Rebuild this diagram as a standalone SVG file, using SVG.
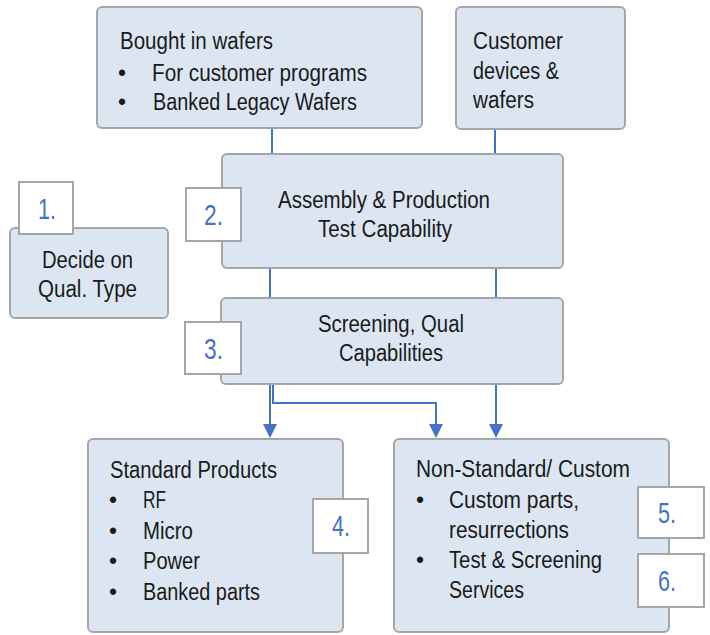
<svg xmlns="http://www.w3.org/2000/svg" width="710" height="635" viewBox="0 0 710 635">
<defs>
<style>
.box{fill:#dce6f2;stroke:#a6a6a6;stroke-width:2}
.lbl{fill:#ffffff;stroke:#a6a6a6;stroke-width:2}
.t{font-family:"Liberation Sans",Arial,sans-serif;font-size:23px;fill:#1a1a1a}
.n{font-family:"Liberation Sans",Arial,sans-serif;font-size:30px;fill:#4472c4}
.con{fill:none;stroke:#4472c4;stroke-width:2}
</style>
<marker id="ah" viewBox="0 0 10 10" refX="0" refY="5" markerUnits="userSpaceOnUse" markerWidth="14" markerHeight="14" orient="auto">
<path d="M0,0 L10,5 L0,10 z" fill="#4472c4"/>
</marker>
</defs>
<rect width="710" height="635" fill="#ffffff"/>
<g id="connectors">
<path class="con" d="M272 128 V154"/>
<path class="con" d="M495 129 V154"/>
<path class="con" d="M270 268 V298"/>
<path class="con" d="M496 268 V298"/>
<path class="con" d="M270 384 V424" marker-end="url(#ah)"/>
<path class="con" d="M273 384 V403 H436 V424" marker-end="url(#ah)"/>
<path class="con" d="M496 384 V424" marker-end="url(#ah)"/>
</g>
<g id="bought">
<rect class="box" x="97" y="7" width="325" height="121" rx="5"/>
<text class="t" x="120" y="49" textLength="153" lengthAdjust="spacingAndGlyphs">Bought in wafers</text>
<text class="t" x="118" y="81">•</text>
<text class="t" x="152" y="81" textLength="215" lengthAdjust="spacingAndGlyphs">For customer programs</text>
<text class="t" x="118" y="110">•</text>
<text class="t" x="153" y="110" textLength="204" lengthAdjust="spacingAndGlyphs">Banked Legacy Wafers</text>
</g>
<g id="customer">
<rect class="box" x="456" y="7" width="169" height="122" rx="5"/>
<text class="t" x="473" y="49" textLength="90" lengthAdjust="spacingAndGlyphs">Customer</text>
<text class="t" x="473" y="79" textLength="86" lengthAdjust="spacingAndGlyphs">devices &amp;</text>
<text class="t" x="473" y="108" textLength="61" lengthAdjust="spacingAndGlyphs">wafers</text>
</g>
<g id="assembly">
<rect class="box" x="222" y="154" width="341" height="114" rx="5"/>
<text class="t" x="278" y="208" textLength="212" lengthAdjust="spacingAndGlyphs">Assembly &amp; Production</text>
<text class="t" x="318" y="237" textLength="134" lengthAdjust="spacingAndGlyphs">Test Capability</text>
</g>
<g id="screening">
<rect class="box" x="221" y="298" width="342" height="86" rx="5"/>
<text class="t" x="318" y="332" textLength="146" lengthAdjust="spacingAndGlyphs">Screening, Qual</text>
<text class="t" x="339" y="361" textLength="104" lengthAdjust="spacingAndGlyphs">Capabilities</text>
</g>
<g id="decide">
<rect class="box" x="10" y="228" width="158" height="90" rx="5"/>
<text class="t" x="42" y="268" textLength="91" lengthAdjust="spacingAndGlyphs">Decide on</text>
<text class="t" x="38" y="297" textLength="99" lengthAdjust="spacingAndGlyphs">Qual. Type</text>
</g>
<g id="standard">
<rect class="box" x="88" y="439" width="255" height="193" rx="5"/>
<text class="t" x="110" y="478" textLength="167" lengthAdjust="spacingAndGlyphs">Standard Products</text>
<text class="t" x="109" y="508">•</text>
<text class="t" x="143" y="508" textLength="23" lengthAdjust="spacingAndGlyphs">RF</text>
<text class="t" x="109" y="539">•</text>
<text class="t" x="143" y="539" textLength="50" lengthAdjust="spacingAndGlyphs">Micro</text>
<text class="t" x="109" y="569">•</text>
<text class="t" x="143" y="569" textLength="57" lengthAdjust="spacingAndGlyphs">Power</text>
<text class="t" x="109" y="600">•</text>
<text class="t" x="143" y="600" textLength="117" lengthAdjust="spacingAndGlyphs">Banked parts</text>
</g>
<g id="custom">
<rect class="box" x="394" y="439" width="275" height="193" rx="5"/>
<text class="t" x="416" y="477" textLength="214" lengthAdjust="spacingAndGlyphs">Non-Standard/ Custom</text>
<text class="t" x="416" y="508">•</text>
<text class="t" x="449" y="508" textLength="130" lengthAdjust="spacingAndGlyphs">Custom parts,</text>
<text class="t" x="449" y="538" textLength="120" lengthAdjust="spacingAndGlyphs">resurrections</text>
<text class="t" x="416" y="568">•</text>
<text class="t" x="449" y="568" textLength="153" lengthAdjust="spacingAndGlyphs">Test &amp; Screening</text>
<text class="t" x="449" y="598" textLength="75" lengthAdjust="spacingAndGlyphs">Services</text>
</g>
<g id="label1">
<rect class="lbl" x="19" y="182" width="54" height="52"/>
<text class="n" x="38" y="219" textLength="18" lengthAdjust="spacingAndGlyphs">1.</text>
</g>
<g id="label2">
<rect class="lbl" x="186" y="188" width="55" height="53"/>
<text class="n" x="204" y="225" textLength="19" lengthAdjust="spacingAndGlyphs">2.</text>
</g>
<g id="label3">
<rect class="lbl" x="185" y="322" width="56" height="52"/>
<text class="n" x="204" y="359" textLength="19" lengthAdjust="spacingAndGlyphs">3.</text>
</g>
<g id="label4">
<rect class="lbl" x="313" y="499" width="55" height="54"/>
<text class="n" x="332" y="536" textLength="18" lengthAdjust="spacingAndGlyphs">4.</text>
</g>
<g id="label5">
<rect class="lbl" x="638" y="487" width="66" height="51"/>
<text class="n" x="658" y="523" textLength="18" lengthAdjust="spacingAndGlyphs">5.</text>
</g>
<g id="label6">
<rect class="lbl" x="638" y="554" width="66" height="53"/>
<text class="n" x="658" y="591" textLength="18" lengthAdjust="spacingAndGlyphs">6.</text>
</g>
</svg>
